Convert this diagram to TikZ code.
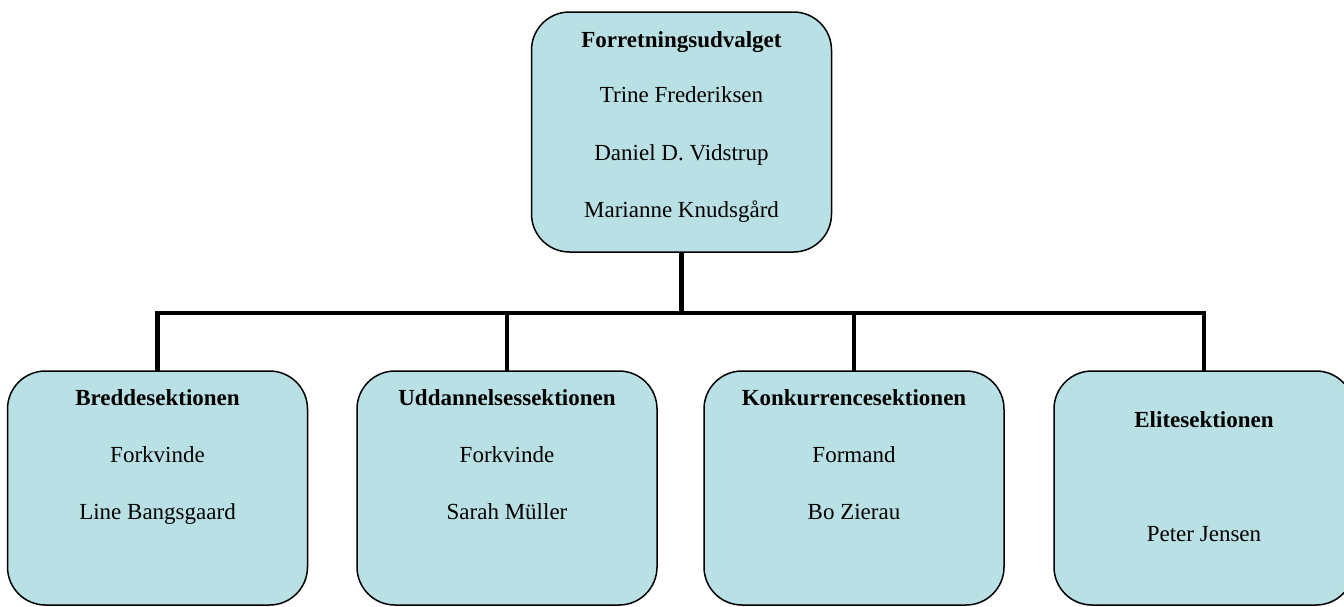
\documentclass[tikz,border=0pt]{standalone}
\usepackage{fontspec}
\setmainfont{Liberation Serif}
\definecolor{boxfill}{RGB}{185,224,228}
\tikzset{
  orgbox/.style={draw=black, line width=1.5pt, fill=boxfill, rounded corners=38pt,
    minimum width=300pt, inner sep=0pt, outer sep=0pt},
  conn/.style={draw=black, line width=4.5pt, line join=miter},
  lbl/.style={anchor=base, inner sep=0pt, font=\fontsize{23}{27}\selectfont},
  ttl/.style={lbl, font=\fontsize{23}{27}\selectfont\bfseries}
}
\begin{document}
\begin{tikzpicture}[x=1pt,y=-1pt]
\clip (0,0) rectangle (1344,606);
\fill[white] (0,0) rectangle (1344,606);
% boxes
\node[orgbox, minimum height=240pt] (top) at (681.5,132) {};
\node[orgbox, minimum height=234pt] (b1) at (157.5,488) {};
\node[orgbox, minimum height=234pt] (b2) at (507,488) {};
\node[orgbox, minimum height=234pt] (b3) at (854,488) {};
\node[orgbox, minimum height=234pt] (b4) at (1204,488) {};
\coordinate (bus) at (681.5,313);
% connectors
\draw[conn] (top.south) -- (top.south |- bus);
\draw[conn] (b1.north) |- (bus) -| (b4.north);
\draw[conn] (b2.north) -- (b2.north |- bus);
\draw[conn] (b3.north) -- (b3.north |- bus);
% texts top
\node[ttl] (t0) at (681.5,47) {Forretningsudvalget};
\node[lbl] (t1) at (681.5,102) {Trine Frederiksen};
\node[lbl] (t2) at (681.5,160) {Daniel D. Vidstrup};
\node[lbl] (t3) at (681.5,217) {Marianne Knudsgård};
% box 1
\node[ttl] (a0) at (157.5,405) {Breddesektionen};
\node[lbl] (a1) at (157.5,462) {Forkvinde};
\node[lbl] (a2) at (157.5,519) {Line Bangsgaard};
% box 2
\node[ttl] (c0) at (507,405) {Uddannelsessektionen};
\node[lbl] (c1) at (507,462) {Forkvinde};
\node[lbl] (c2) at (507,519) {Sarah Müller};
% box 3
\node[ttl] (d0) at (854,405) {Konkurrencesektionen};
\node[lbl] (d1) at (854,462) {Formand};
\node[lbl] (d2) at (854,519) {Bo Zierau};
% box 4
\node[ttl] (e0) at (1204,427) {Elitesektionen};
\node[lbl] (e1) at (1204,541) {Peter Jensen};
\end{tikzpicture}
\end{document}
